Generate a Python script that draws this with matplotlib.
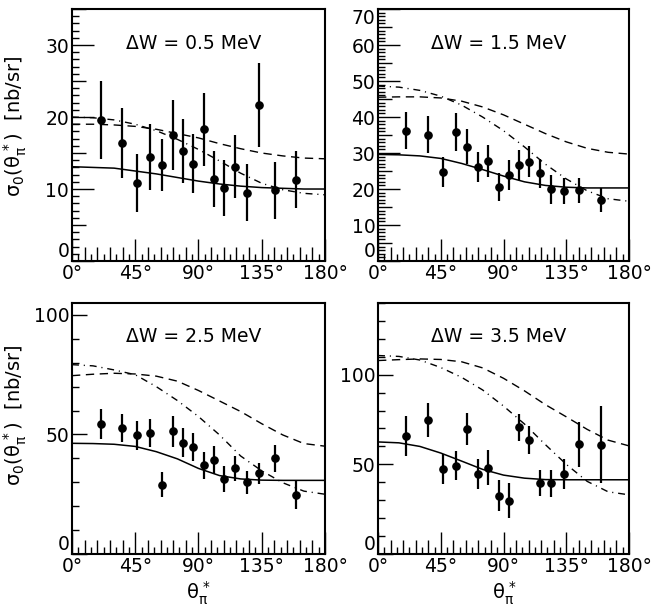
import numpy as np
import matplotlib
matplotlib.use("Agg")
import matplotlib.pyplot as plt
from matplotlib.ticker import FixedLocator, NullFormatter

plt.rcParams['font.family'] = ['DejaVu Sans']
plt.rcParams['mathtext.fontset'] = 'dejavusans'

# bin centres in theta (deg), same for all panels
theta = [20.4, 35.7, 46.6, 55.8, 63.9, 71.8, 79.2, 86.4, 93.6, 100.8, 108.2, 116.1, 124.2, 133.4, 144.3, 159.6]

dw_labels = ['0.5', '1.5', '2.5', '3.5']

# measured cross sections and errors
p1_y = [19.6, 16.4, 10.8, 14.4, 13.3, 17.5, 15.3, 13.5, 18.3, 11.4, 10.1, 13.1, 9.5, 21.7, 9.8, 11.3]
p1_err = [5.4, 4.9, 4.05, 4.6, 3.6, 4.9, 4.45, 4.1, 5.05, 3.9, 3.9, 4.4, 4.0, 5.85, 3.95, 4.0]
p2_y = [36.2, 35.1, 24.8, 35.9, 31.8, 26.0, 27.8, 20.5, 23.9, 26.7, 27.6, 24.4, 19.9, 19.5, 19.7, 16.9]
p2_err = [5.15, 5.1, 4.2, 5.2, 4.85, 4.15, 4.4, 3.85, 4.2, 4.25, 4.35, 4.05, 3.95, 3.6, 3.5, 3.35]
p3_y = [54.4, 52.6, 49.6, 50.7, 29.0, 51.4, 46.5, 44.9, 37.2, 39.3, 31.5, 35.8, 30.0, 33.75, 40.0, 24.7]
p3_err = [6.3, 5.9, 5.9, 5.8, 5.35, 6.5, 6.1, 5.9, 5.65, 5.8, 5.4, 5.2, 4.85, 4.5, 5.5, 6.05]
p4_y = [65.9, 74.7, 47.4, 49.3, 69.5, 44.4, 48.1, 32.6, 29.8, 70.8, 63.5, 39.5, 39.5, 44.8, 61.2, 61.0]
p4_err = [11.25, 9.35, 8.25, 7.95, 8.9, 8.4, 9.65, 8.6, 9.55, 7.5, 7.8, 7.15, 7.5, 8.45, 12.65, 21.55]

ang = [0, 15, 30, 45, 60, 75, 90, 105, 120, 135, 150, 165, 180]
p1_solid = [13.1, 13.0, 12.9, 12.5, 12.1, 11.6, 11.1, 10.7, 10.4, 10.2, 10.1, 10.0, 10.0]
p1_dash = [19.0, 19.0, 18.9, 18.7, 18.3, 17.7, 17.1, 16.3, 15.6, 15.0, 14.6, 14.3, 14.2]
p1_dashdot = [20.0, 19.9, 19.6, 19.0, 18.1, 16.9, 15.5, 13.9, 12.2, 10.8, 9.9, 9.4, 9.2]
p2_solid = [29.6, 29.5, 29.2, 28.5, 27.1, 25.4, 23.6, 22.0, 21.0, 20.5, 20.3, 20.3, 20.3]
p2_dash = [45.5, 45.6, 45.6, 45.3, 44.4, 42.8, 40.6, 38.0, 35.4, 33.1, 31.3, 30.2, 29.7]
p2_dashdot = [48.6, 48.3, 47.4, 45.8, 43.3, 40.0, 36.2, 31.7, 26.9, 22.8, 19.5, 17.3, 16.6]
p3_solid = [46.3, 46.2, 45.9, 45.0, 42.8, 39.8, 35.8, 32.8, 31.4, 30.9, 30.8, 30.8, 30.8]
p3_dash = [74.6, 75.2, 75.6, 75.3, 74.4, 72.3, 68.4, 64.0, 59.6, 54.5, 49.8, 46.2, 45.1]
p3_dashdot = [79.2, 78.7, 77.0, 75.0, 70.0, 64.2, 57.5, 49.8, 41.0, 34.8, 29.8, 26.3, 25.0]
p4_solid = [62.5, 62.0, 60.0, 56.3, 51.8, 47.2, 44.0, 42.3, 41.5, 41.4, 41.4, 41.4, 41.4]
p4_dash = [107.9, 108.4, 108.8, 108.5, 107.2, 103.8, 98.0, 91.0, 83.3, 76.5, 69.5, 63.5, 60.3]
p4_dashdot = [110.7, 110.2, 108.2, 104.0, 98.5, 91.5, 82.5, 72.5, 61.0, 50.0, 40.5, 34.7, 33.0]

panels = [
    (p1_y, p1_err, p1_solid, p1_dash, p1_dashdot, 35, 'fine'),
    (p2_y, p2_err, p2_solid, p2_dash, p2_dashdot, 70, 'fine'),
    (p3_y, p3_err, p3_solid, p3_dash, p3_dashdot, 105, 'coarse'),
    (p4_y, p4_err, p4_solid, p4_dash, p4_dashdot, 140, 'coarse'),
]

rects = [
    [0.1104, 0.5721, 0.3880, 0.4131],
    [0.5798, 0.5721, 0.3850, 0.4131],
    [0.1104, 0.0918, 0.3880, 0.4115],
    [0.5798, 0.0918, 0.3850, 0.4115],
]

LONG, MED, SHORT = 15.5, 10, 5

fig = plt.figure(figsize=(6.52, 6.10), dpi=100)

for i, (yv, ye, sol, dsh, dd, ymax, style) in enumerate(panels):
    # overlay axes only carries the shortest tick level
    ov = fig.add_axes(rects[i])
    ax = fig.add_axes(rects[i])
    for a in (ov, ax):
        a.set_xlim(0, 180)
        a.set_ylim(0, ymax)
        a.tick_params(axis='both', which='both', direction='in', width=1.0,
                      top=False, right=False, labelsize=13.5)
    ov.patch.set_visible(False)
    for sp in ov.spines.values():
        sp.set_visible(False)
    ov.xaxis.set_major_formatter(NullFormatter())
    ov.yaxis.set_major_formatter(NullFormatter())
    ax.patch.set_visible(False)

    ax.plot(ang, sol, color='black', lw=1.1, ls='-')
    ax.plot(ang, dsh, color='black', lw=1.0, ls=(0, (6, 4)))
    ax.plot(ang, dd, color='black', lw=1.0, ls=(0, (5, 3.5, 0.8, 3.5)))
    ax.errorbar(theta, yv, yerr=ye, fmt='o', color='black', ms=5.2,
                elinewidth=1.6, capsize=0, zorder=5)

    for sp in ax.spines.values():
        sp.set_linewidth(1.5)
    ax.tick_params(axis='both', pad=2)

    # x: long every 45, medium every 9, short every 4.5
    ax.set_xticks([0, 45, 90, 135, 180])
    ax.set_xticklabels(['0°', '45°', '90°', '135°', '180°'])
    xs = np.arange(0, 180.1, 4.5)
    ax.xaxis.set_minor_locator(FixedLocator([v for v in xs if v % 9 == 0 and v % 45 != 0]))
    ov.xaxis.set_major_locator(FixedLocator([v for v in xs if v % 9 != 0]))
    ax.tick_params(axis='x', which='major', length=LONG)
    ax.tick_params(axis='x', which='minor', length=MED)
    ov.tick_params(axis='x', which='major', length=SHORT)

    if style == 'fine':
        ys = np.arange(0, ymax + 0.1, 1)
        ax.set_yticks([v for v in ys if v % 10 == 0])
        ax.yaxis.set_minor_locator(FixedLocator([v for v in ys if v % 5 == 0 and v % 10 != 0]))
        ov.yaxis.set_major_locator(FixedLocator([v for v in ys if v % 5 != 0]))
        ax.tick_params(axis='y', which='major', length=LONG)
        ax.tick_params(axis='y', which='minor', length=MED)
        ov.tick_params(axis='y', which='major', length=SHORT)
    else:
        ys = np.arange(0, ymax + 0.1, 10)
        ax.set_yticks([0, 50, 100])
        ax.yaxis.set_minor_locator(FixedLocator([v for v in ys if v % 50 != 0]))
        ax.tick_params(axis='y', which='major', length=11)
        ax.tick_params(axis='y', which='minor', length=SHORT)
        ov.set_yticks([])
    ax.yaxis.set_major_formatter(plt.FuncFormatter(lambda v, p: '%d' % v))

    # ROOT-style: keep edge labels inside the frame
    ylabels = ax.get_yticklabels()
    ylabels[0].set_va('bottom')
    if ymax == 70:
        ylabels[-1].set_va('top')

    ax.text(0.48, 0.865, 'ΔW = %s MeV' % dw_labels[i], transform=ax.transAxes,
            ha='center', va='center', fontsize=13.5)

ylab = r'$\mathrm{\sigma_0(\theta_\pi^{\,*})}$  [nb/sr]'
fig.text(15 / 652, 1 - 126 / 610, ylab, rotation=90, ha='center', va='center', fontsize=14)
fig.text(15 / 652, 1 - 415 / 610, ylab, rotation=90, ha='center', va='center', fontsize=14)
xlab = r'$\mathrm{\theta_\pi^{\,*}}$'
fig.text(199 / 652, 1 - 593 / 610, xlab, ha='center', va='center', fontsize=14)
fig.text(505 / 652, 1 - 593 / 610, xlab, ha='center', va='center', fontsize=14)

plt.savefig('out.png', dpi=100)
